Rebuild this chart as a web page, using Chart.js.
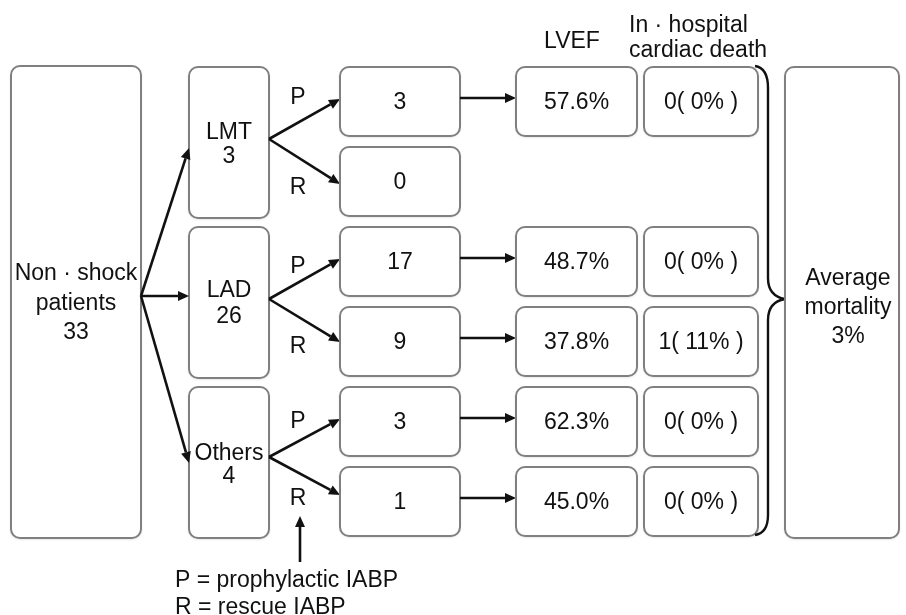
<!DOCTYPE html>
<html>
<head>
<meta charset="utf-8">
<script src="https://cdn.jsdelivr.net/npm/chart.js@4"></script>
<style>
  body { margin: 0; background: #fff; }
  #wrap { width: 906px; height: 615px; }
</style>
</head>
<body>
<div id="wrap"><canvas id="flow" width="906" height="615"></canvas></div>
<script>
// data
const totalLabel = ['Non · shock', 'patients'];
const totalN = 33;
const territories = ['LMT', 'LAD', 'Others'];
const territoryN = [3, 26, 4];
const iabpType = ['P', 'R', 'P', 'R', 'P', 'R'];
const groupN = [3, 0, 17, 9, 3, 1];
const lvef = ['57.6%', null, '48.7%', '37.8%', '62.3%', '45.0%'];
const deaths = ['0( 0% )', null, '0( 0% )', '1( 11% )', '0( 0% )', '0( 0% )'];
const headers = ['LVEF', ['In · hospital', 'cardiac death']];
const avgLabel = ['Average', 'mortality'];
const avgMortality = '3%';
const legendLines = ['P = prophylactic IABP', 'R = rescue IABP'];

// layout (chart units, 1 unit = 1px)
const FONT = '23px "Liberation Sans", Arial, sans-serif';
const col = {
    main: [11, 141], terr: [189, 269], grp: [340, 460],
    lvef: [516, 637], death: [644, 758], avg: [785, 899]
};
const grpTop = [67, 147, 227, 307, 387, 467];
const grpH = 69;
const terrBox = [[67, 218], [227, 378], [387, 538]];

document.addEventListener('DOMContentLoaded', () => {
    const flowPlugin = {
        id: 'flow',
        afterDraw(chart) {
            const ctx = chart.ctx;
            const sx = v => chart.scales.x.getPixelForValue(v);
            const sy = v => chart.scales.y.getPixelForValue(v);

            function box(x0, x1, y0, y1) {
                ctx.save();
                ctx.shadowColor = 'rgba(0,0,0,0.18)';
                ctx.shadowBlur = 3;
                ctx.shadowOffsetY = 1;
                ctx.beginPath();
                ctx.roundRect(sx(x0), sy(y0), sx(x1) - sx(x0), sy(y1) - sy(y0), 9);
                ctx.fillStyle = '#fff';
                ctx.fill();
                ctx.restore();
                ctx.save();
                ctx.beginPath();
                ctx.roundRect(sx(x0), sy(y0), sx(x1) - sx(x0), sy(y1) - sy(y0), 9);
                ctx.strokeStyle = '#808080';
                ctx.lineWidth = 2;
                ctx.stroke();
                ctx.restore();
            }

            function text(str, x, y, align) {
                ctx.save();
                ctx.font = FONT;
                ctx.fillStyle = '#111';
                ctx.textAlign = align || 'center';
                ctx.textBaseline = 'alphabetic';
                ctx.fillText(str, sx(x), sy(y));
                ctx.restore();
            }

            function arrow(x0, y0, x1, y1) {
                const a = Math.atan2(sy(y1) - sy(y0), sx(x1) - sx(x0));
                const L = 11, W = 5;
                const ex = sx(x1) - Math.cos(a) * L, ey = sy(y1) - Math.sin(a) * L;
                ctx.save();
                ctx.strokeStyle = '#111';
                ctx.fillStyle = '#111';
                ctx.lineWidth = 2.6;
                ctx.beginPath();
                ctx.moveTo(sx(x0), sy(y0));
                ctx.lineTo(ex, ey);
                ctx.stroke();
                ctx.beginPath();
                ctx.moveTo(sx(x1), sy(y1));
                ctx.lineTo(ex - Math.sin(a) * W, ey + Math.cos(a) * W);
                ctx.lineTo(ex + Math.sin(a) * W, ey - Math.cos(a) * W);
                ctx.closePath();
                ctx.fill();
                ctx.restore();
            }

            const mid = c => (c[0] + c[1]) / 2;

            // total box
            box(col.main[0], col.main[1], 66, 538);
            text(totalLabel[0], mid(col.main), 280);
            text(totalLabel[1], mid(col.main), 310);
            text(String(totalN), mid(col.main), 339);

            // territory boxes
            const terrBase = [[139, 163], [297, 323], [460, 483]];
            territories.forEach((t, i) => {
                const [y0, y1] = terrBox[i];
                box(col.terr[0], col.terr[1], y0, y1);
                text(t, mid(col.terr), terrBase[i][0]);
                text(String(territoryN[i]), mid(col.terr), terrBase[i][1]);
            });

            // arrows from total to territories
            const origin = [141, 296];
            arrow(origin[0], origin[1], col.terr[0], 148);
            arrow(origin[0], origin[1], col.terr[0], 296);
            arrow(origin[0], origin[1], col.terr[0], 463);

            // branch arrows and P / R labels
            const branchY = [139, 299, 457];
            const branchTo = [[99, 184], [259, 342], [419, 495]];
            const labelBase = [[104, 194], [273, 353], [428, 505]];
            territories.forEach((t, i) => {
                arrow(col.terr[1], branchY[i], col.grp[0], branchTo[i][0]);
                arrow(col.terr[1], branchY[i], col.grp[0], branchTo[i][1]);
                text(iabpType[2 * i], 298, labelBase[i][0]);
                text(iabpType[2 * i + 1], 298, labelBase[i][1]);
            });

            // group rows
            groupN.forEach((n, i) => {
                const y0 = grpTop[i], y1 = y0 + grpH;
                const base = y0 + 42;
                box(col.grp[0], col.grp[1], y0, y1);
                text(String(n), mid(col.grp), base);
                if (lvef[i] !== null) {
                    arrow(col.grp[1], y0 + 31, col.lvef[0], y0 + 31);
                    box(col.lvef[0], col.lvef[1], y0, y1);
                    text(lvef[i], mid(col.lvef), base);
                    box(col.death[0], col.death[1], y0, y1);
                    text(deaths[i], mid(col.death), base);
                }
            });

            // headers
            text(headers[0], 572, 48);
            text(headers[1][0], 629, 32, 'left');
            text(headers[1][1], 629, 57, 'left');

            // brace
            ctx.save();
            ctx.strokeStyle = '#111';
            ctx.lineWidth = 2.4;
            ctx.beginPath();
            ctx.moveTo(sx(755), sy(66));
            ctx.quadraticCurveTo(sx(768), sy(68), sx(768), sy(88));
            ctx.lineTo(sx(768), sy(278));
            ctx.quadraticCurveTo(sx(768), sy(296), sx(785), sy(299));
            ctx.quadraticCurveTo(sx(768), sy(302), sx(768), sy(320));
            ctx.lineTo(sx(768), sy(515));
            ctx.quadraticCurveTo(sx(768), sy(533), sx(755), sy(535));
            ctx.stroke();
            ctx.restore();

            // average box
            box(col.avg[0], col.avg[1], 67, 538);
            text(avgLabel[0], 848, 285);
            text(avgLabel[1], 848, 314);
            text(avgMortality, 848, 343);

            // legend
            arrow(300, 562, 300, 516);
            text(legendLines[0], 175, 587, 'left');
            text(legendLines[1], 175, 614, 'left');
        }
    };

    new Chart(document.getElementById('flow').getContext('2d'), {
        type: 'scatter',
        data: { datasets: [{ data: [], pointRadius: 0 }] },
        options: {
            responsive: false,
            animation: false,
            layout: { padding: 0 },
            plugins: { legend: { display: false }, tooltip: { enabled: false } },
            scales: {
                x: { type: 'linear', min: 0, max: 906, display: false },
                y: { type: 'linear', min: 0, max: 615, reverse: true, display: false }
            }
        },
        plugins: [flowPlugin]
    });
});
</script>
</body>
</html>
